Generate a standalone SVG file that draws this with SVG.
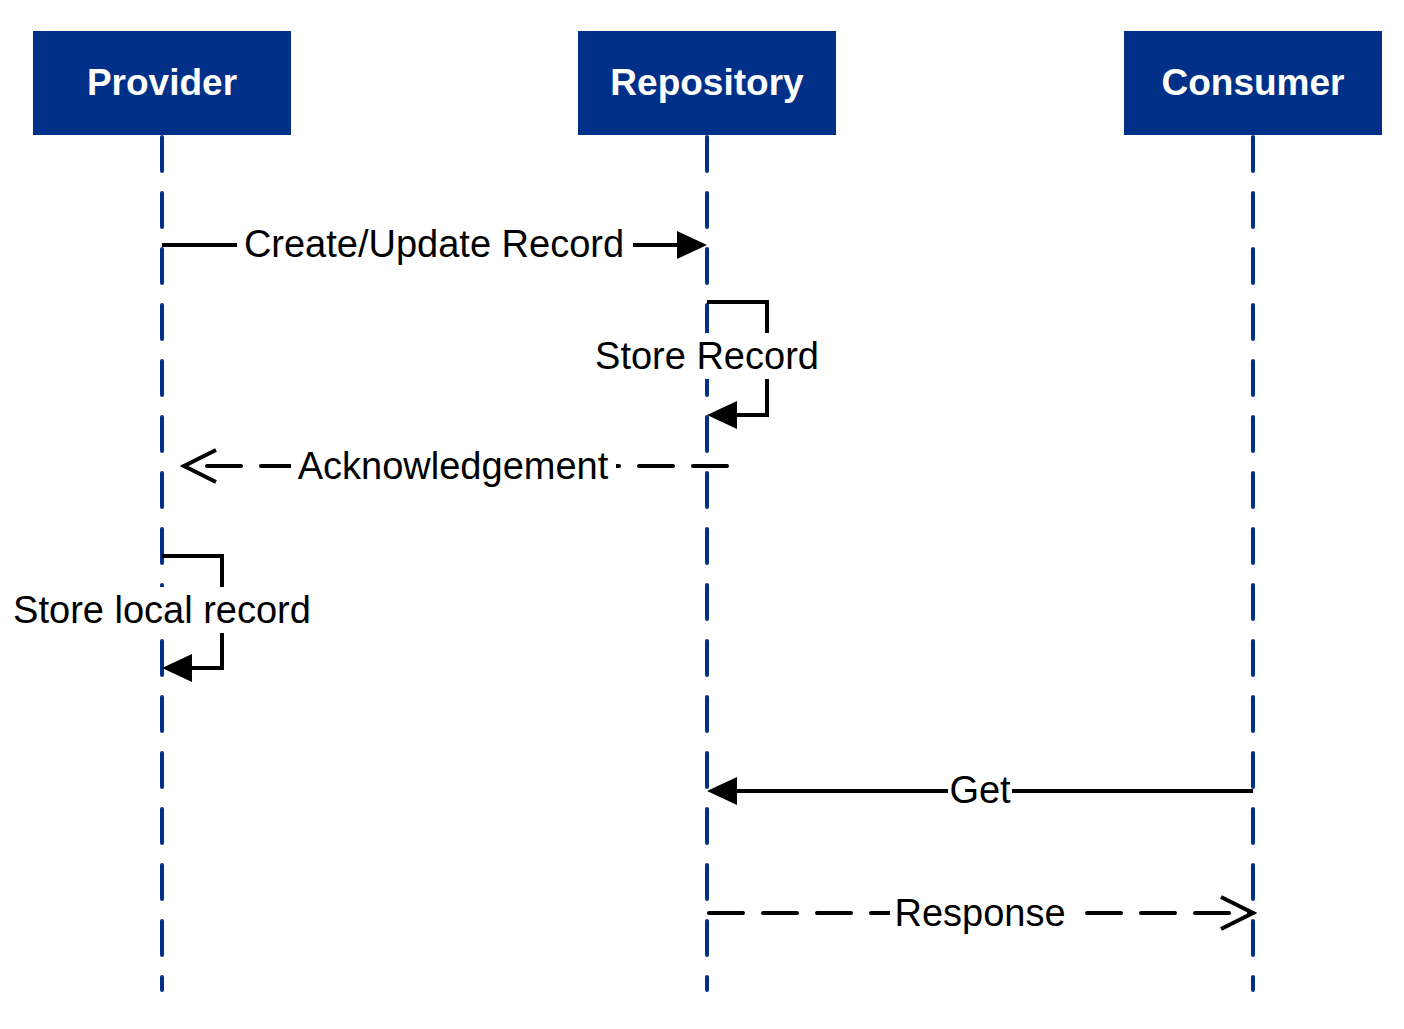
<svg xmlns="http://www.w3.org/2000/svg" width="1404" height="1029" viewBox="0 0 1404 1029">
<style>
.hdr{fill:#003087}
.ht{font-family:"Liberation Sans",Arial,sans-serif;font-weight:bold;font-size:37px;fill:#fff;text-anchor:middle}
.life{stroke:#003087;stroke-width:4;stroke-dasharray:34 22;stroke-linecap:round;fill:none}
.msg{stroke:#000;stroke-width:4;fill:none}
.dash{stroke-dasharray:34 20;stroke-linecap:round}
.lt{font-family:"Liberation Sans",Arial,sans-serif;font-size:38px;fill:#000;text-anchor:middle}
.bg{fill:#fff}
</style>
<defs>
<marker id="fa" markerWidth="8" markerHeight="8" refX="8" refY="4" orient="auto" markerUnits="userSpaceOnUse" viewBox="0 0 8 8"><path d="M0,0 L8,4 L0,8 z" fill="#000"/></marker>
<marker id="oa" markerWidth="40" markerHeight="40" refX="36" refY="20" orient="auto" markerUnits="userSpaceOnUse"><path d="M4,4 L36,20 L4,36" fill="none" stroke="#000" stroke-width="4"/></marker>
</defs>
<g id="lifelines">
<line class="life" x1="162" y1="137" x2="162" y2="990"/>
<line class="life" x1="707" y1="137" x2="707" y2="990"/>
<line class="life" x1="1253" y1="137" x2="1253" y2="990"/>
</g>
<g id="provider"><rect class="hdr" x="33" y="31" width="258" height="104"/><text class="ht" x="162" y="95">Provider</text></g>
<g id="repository"><rect class="hdr" x="578" y="31" width="258" height="104"/><text class="ht" x="707" y="95">Repository</text></g>
<g id="consumer"><rect class="hdr" x="1124" y="31" width="258" height="104"/><text class="ht" x="1253" y="95">Consumer</text></g>
<g id="connectors">
<path class="msg" d="M162,245 H677"/><path d="M677,231 L707,245 L677,259 z"/>
<path class="msg" d="M707,302 H767 V415 H737"/><path d="M737,401 L707,415 L737,429 z"/>
<path class="msg dash" d="M727,466 H184" marker-end="url(#oa)"/>
<path class="msg" d="M162,556 H222 V668 H192"/><path d="M192,654 L162,668 L192,682 z"/>
<path class="msg" d="M1253,791 H737"/><path d="M737,777 L707,791 L737,805 z"/>
<path class="msg dash" d="M709,913 H1253" marker-end="url(#oa)"/>
</g>
<g id="labels">
<rect class="bg" x="237" y="222" width="396" height="46"/><text class="lt" x="434" y="257">Create/Update Record</text>
<rect class="bg" x="591" y="333" width="233" height="46"/><text class="lt" x="707" y="369">Store Record</text>
<rect class="bg" x="291" y="443" width="325" height="46"/><text class="lt" x="453" y="479">Acknowledgement</text>
<rect class="bg" x="6" y="587" width="312" height="46"/><text class="lt" x="162" y="623">Store local record</text>
<rect class="bg" x="948" y="768" width="64" height="46"/><text class="lt" x="980" y="803">Get</text>
<rect class="bg" x="890" y="890" width="180" height="46"/><text class="lt" x="980" y="926">Response</text>
</g>
</svg>
